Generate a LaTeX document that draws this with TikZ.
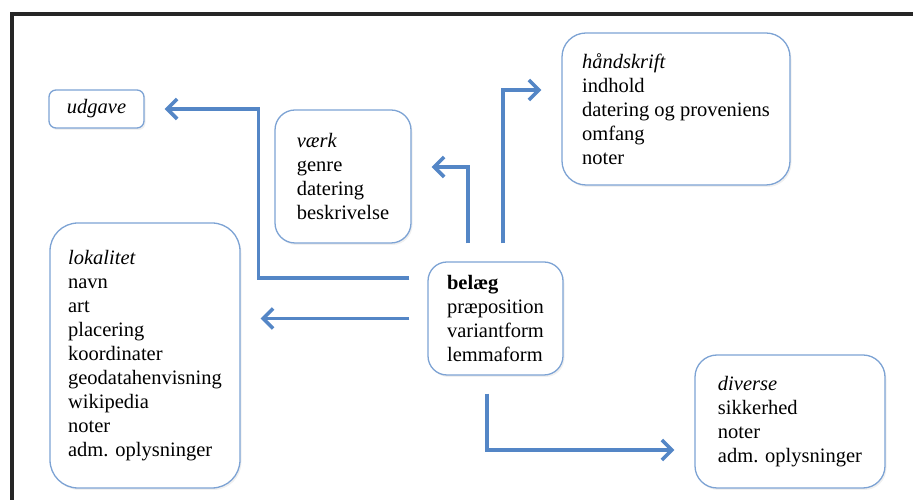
\documentclass[tikz,border=0pt]{standalone}
\usepackage{fontspec}
\setmainfont{Liberation Serif}
\usetikzlibrary{arrows.meta,shadows}
\definecolor{pilblaa}{RGB}{84,134,198}
\definecolor{kantblaa}{RGB}{125,163,212}
\begin{document}
\begin{tikzpicture}[x=1pt,y=1pt,
    boks/.style={draw=kantblaa, line width=1.3pt, fill=white, align=left, inner sep=0pt,
        font=\fontsize{20.5}{24}\selectfont,
        drop shadow={opacity=0.12, shadow xshift=1.5pt, shadow yshift=-2pt}},
    pil/.style={draw=pilblaa, line width=3.6pt, -{Straight Barb[length=10pt,width=20pt]},
        shorten <=18pt, shorten >=20pt}]
        \useasboundingbox (0,0) rectangle (913,500);
        \draw[line width=3.5pt, black!85] (913,486) -- (12,486) -- (12,0);
        % kasserne
        \node[boks, rounded corners=7pt, minimum width=95pt, minimum height=38pt] (udgave) at (96.5,391) {\textit{udgave}};
        \node[boks, rounded corners=20pt, minimum width=136pt, minimum height=133pt] (vaerk) at (343,323.5) {\textit{værk}\\genre\\datering\\beskrivelse};
        \node[boks, rounded corners=24pt, minimum width=228pt, minimum height=152pt] (haandskrift) at (676,391) {\textit{håndskrift}\\indhold\\datering og proveniens\\omfang\\noter};
        \node[boks, rounded corners=28pt, minimum width=190pt, minimum height=265pt] (lokalitet) at (145,144.5) {\textit{lokalitet}\\navn\\art\\placering\\koordinater\\geodatahenvisning\\wikipedia\\noter\\adm. oplysninger};
        \node[boks, rounded corners=19pt, minimum width=135pt, minimum height=113pt] (belaeg) at (495.5,181.5) {\textbf{belæg}\\præposition\\variantform\\lemmaform};
        \node[boks, rounded corners=22pt, minimum width=190pt, minimum height=133pt] (diverse) at (790,78.5) {\textit{diverse}\\sikkerhed\\noter\\adm. oplysninger};
        % pilene
        \draw[pil] ([yshift=40.5pt]belaeg.west) -| ([xshift=114pt]udgave.east) -- (udgave.east);
        \draw[pil] (belaeg.west) -- (belaeg.west -| lokalitet.east);
        \draw[pil] ([xshift=-27.5pt]belaeg.north) |- ([yshift=9.5pt]vaerk.east);
        \draw[pil] ([xshift=7.5pt]belaeg.north) |- ([yshift=19pt]haandskrift.west);
        \draw[pil] ([xshift=-8.5pt]belaeg.south) |- ([yshift=-28.5pt]diverse.west);
\end{tikzpicture}
\end{document}
